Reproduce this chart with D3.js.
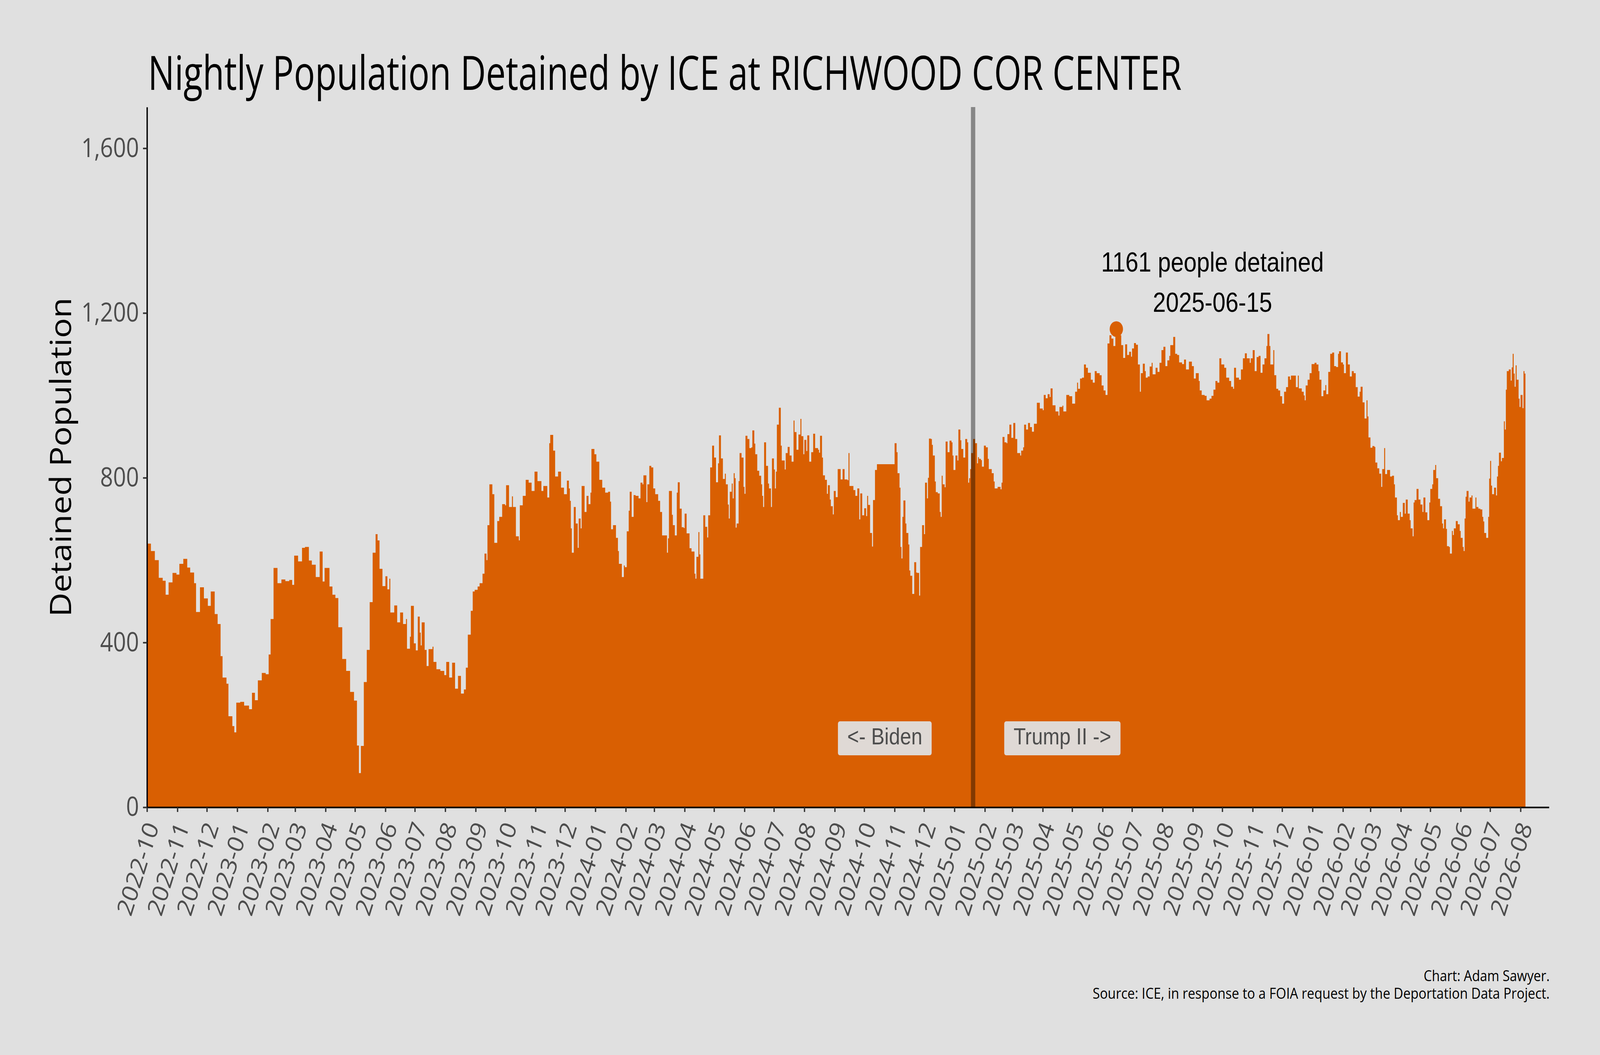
<!DOCTYPE html>
<html lang="en">
<head>
    <meta charset="utf-8">
    <title>index.html</title>
    <script type="text/javascript" src="https://cdnjs.cloudflare.com/ajax/libs/d3/7.8.5/d3.min.js"></script>
    <style>
        html, body { margin: 0; padding: 0; background: #E0E0E0; overflow: hidden; }
        svg { display: block; width: 100vw; height: 100vh; }
    </style>
</head>
<body>
    <script type="text/javascript">
    //days since 2022-10-01 at which the nightly count changes
    var dayNumber = [
        0,4,8,12,16,19,22,26,30,33, 37,41,44,48,50,54,58,62,65,69, 72,75,77,81,83,87,89,91,95,99,
        104,107,110,113,117,121,124,126,129,133, 137,141,145,148,150,154,158,161,165,168,
        172,176,179,181,186,189,192,195,199,203, 207,211,214,216,218,221,224,227,230,233,
        235,237,240,243,245,247,248,252,255,258, 261,264,265,268,269,272,274,276,278,279,
        280,283,285,287,291,292,295,299,303,305, 308,311,314,317,320,323,325,327,330,332,
        334,337,339,342,344,346,347,349,352,354, 357,359,362,365,366,369,372,373,376,379,
        380,383,386,389,392,395,398,402,404,408, 410,411,414,416,419,422,425,428,430,431,
        432,433,435,437,439,440,442,443,446,448, 450,452,453,456,458,461,464,467,
        470,472,473,475,478,480,481,484,486,487, 489,491,492,494,496,498,501,503,505,506,
        509,510,512,514,516,518,521,523,525,528, 530,531,532,535,536,538,540,541,543,545,
        547,548,550,553,555,558,559,560,562,563, 564,567,569,571,572,574,576,578,580,582,
        583,585,587,589,590,592,593,594,596,597, 598,599,600,601,603,604,606,608,609,610,
        612,614,616,617,619,620,622,624,626,627, 628,629,631,633,634,636,637,639,640,641,
        642,644,646,647,650,651,653,655,657,659, 660,662,664,666,667,669,670,672,673,675,
        677,679,681,684,685,686,688,689,691,693, 694,696,697,699,700,702,
        704,707,709,711,714,715,716,720,722,724, 726,727,729,731,733,734,735,737,739,740,
        742,744,749,753,758,761,762,764,765,767, 768,769,770,771,773,774,776,777,778,780,
        782,784,785,787,788,790,792,793,795,796, 797,799,800,801,803,804,806,808,809,810,
        811,813,814,816,818,820,821,822,824,826, 827,829,830,832,834,836,837,838,839,840,
        842,844,846,847,848,850,851,853,855,857, 858,861,863,864,867,870,871,872,874,876,
        877,879,881,883,885,887,890,891,893,894, 896,898,900,902,904,906,907,910,913,914,
        916,918,920,921,923,926,929,930,933,934, 937,
        938,940,943,946,948,949,951,953,955,957, 959,962,964,966,968,971,973,975,977,979,
        981,983,985,987,988,989,990,993,995,997, 999,1001,1003,1004,1006,1008,1010,1012,1013,1015,
        1017,1018,1020,1022,1024,1025,1028,1030,1032,1034, 1036,1038,1040,1042,1043,1046,1048,1050,1052,1055,
        1057,1059,1062,1063,1065,1067,1069,1072,1073,1075, 1078,1080,1083,1085,1087,1089,1091,1093,1095,1098,
        1100,1103,1105,1107,1108,1110,1113,1115,1117,1119, 1121,1124,1125,1127,1129,1131,1133,1135,1137,1139,
        1141,1142,1144,1145,1148,1149,1151,1153,1155,1157, 1159,1161,1163,1165,1166,1168,1171,
        1173,1174,1177,1179,1180,1181,1183,1185,1187,1190, 1192,1194,1195,1197,1199,1201,1202,1204,1206,1208,
        1210,1212,1214,1215,1217,1219,1220,1222,1224,1226, 1228,1230,1232,1234,1236,1237,1239,1241,1243,1244,
        1245,1247,1249,1251,1252,1254,1256,1258,1259,1261, 1262,1264,1266,1267,1269,1271,1272,1274,1275,1277,
        1278,1280,1282,1283,1285,1287,1288,1290,1291,1292, 1294,1296,1298,1300,1301,1303,1305,1307,1308,1310,
        1311,1313,1314,1316,1318,1320,1321,1322,1324,1325, 1327,1328,1330,1331,1332,1334,1336,1338,1339,1341,
        1342,1343,1344,1345,1347,1348,1350,1351,1354,1355, 1357,1359,1361,1362,1363,1365,1367,1368,1369,1370,
        1371,1373,1375,1376,1377,1378,1380,1381,1383,1384, 1385,1386,1388,1390,1391,1392,1393,1394,1395,1396,
        1398,1399,1400,1402,1403,1404
    ];

    //nightly detained population on those days
    var detained = [
        640,622,600,557,550,516,546,569,565,591, 603,582,570,544,474,534,507,489,524,469, 445,367,315,300,221,197,182,254,256,247,
        238,278,260,308,326,323,371,457,581,544, 553,549,552,540,611,597,630,632,599,589,
        559,621,548,581,536,516,508,437,360,331, 280,259,150,83,149,304,382,498,618,663,
        648,579,537,561,529,555,473,490,449,473, 445,457,385,414,489,398,381,463,424,393,
        449,382,343,384,390,353,335,331,321,353, 315,351,288,319,276,286,339,419,477,524,
        528,536,544,567,616,600,685,784,760,642, 695,705,736,733,782,729,755,729,658,648,
        733,756,795,788,768,815,792,768,780,752, 884,904,866,803,815,776,760,793,774,744,
        677,618,729,689,630,701,677,780,717,756, 736,764,870,857,839,795,776,764,
        766,742,675,685,654,622,591,559,587,583, 670,720,766,705,758,756,750,788,784,806,
        741,784,829,825,774,760,744,717,660,660, 618,653,768,710,685,660,764,789,725,680,
        678,713,665,629,621,567,555,608,668,614, 555,709,681,655,709,825,878,849,789,835,
        903,847,797,810,784,735,701,766,786,750, 811,799,679,689,792,860,849,778,761,902,
        894,872,874,915,883,857,817,805,784,756, 729,886,829,786,774,729,847,820,774,815,
        929,970,878,842,820,860,875,854,839,939, 911,868,905,943,901,857,892,865,903,839,
        862,907,872,868,861,902,849,806,795,761, 782,747,731,711,768,753,
        821,796,821,796,794,860,780,770,756,774, 699,762,709,726,707,756,734,666,633,746,
        819,833,833,833,833,833,884,862,811,776, 632,604,705,745,689,666,638,575,562,518,
        595,570,569,514,632,685,663,788,750,800, 895,894,880,854,791,765,762,717,705,805,
        784,777,888,862,890,886,854,819,854,842, 917,891,870,849,894,886,788,799,821,860,
        894,884,835,850,846,843,827,878,874,846, 821,811,791,774,778,772,788,899,886,884,
        906,929,897,933,894,860,854,866,874,929, 917,933,923,912,931,931,982,968,964,1001,
        993,1003,996,1017,976,961,951,972,975,961, 1001,
        1001,998,980,1009,1031,1016,1041,1043,1075,1067, 1055,1038,1031,1059,1054,1049,1024,1012,1001,1126,
        1146,1138,1120,1142,1161,1146,1146,1122,1091,1124, 1098,1106,1094,1114,1127,1123,1075,1009,1054,1077,
        1059,1043,1046,1070,1079,1051,1067,1057,1079,1110, 1118,1071,1085,1096,1122,1142,1101,1098,1080,1076,
        1087,1063,1082,1082,1071,1041,1054,1035,1012,1001, 999,988,992,999,1014,1035,1031,1090,1075,1067,
        1043,1035,1021,1016,1067,1043,1038,1063,1090,1102, 1090,1079,1090,1110,1059,1093,1096,1055,1075,1090,
        1120,1149,1120,1075,1110,1049,1016,1012,998,980, 1009,1020,1046,1038,1048,1048,1020,
        1048,1017,1009,1000,988,1024,1038,1054,1076,1079, 1075,1059,1038,998,1012,1025,1003,1057,1101,1104,
        1071,1069,1101,1107,1080,1075,1054,1104,1075,1046, 1059,1054,1020,997,1009,1021,983,944,988,949,
        898,873,877,875,837,823,810,778,821,872, 809,819,819,803,805,784,752,709,697,717,
        705,739,713,747,713,697,677,658,740,746, 773,747,735,717,752,716,697,740,773,784,
        819,831,799,749,731,689,677,699,676,634, 632,616,671,661,677,695,687,671,654,632,
        622,701,754,768,742,752,757,725,752,729, 725,723,705,694,666,654,705,798,841,781,
        760,776,757,803,829,861,840,848,937,917, 1014,1059,1063,1036,1068,1101,1053,1021,1073,1038,
        992,972,1001,969,1059,1053
    ];

    var startDate = new Date(Date.UTC(2022, 9, 1)),
        lastDay = 1405,
        axisEnd = new Date(Date.UTC(2026, 7, 30)),
        inauguration = new Date(Date.UTC(2025, 0, 20)),
        peakDate = new Date(Date.UTC(2025, 5, 15)),
        peakValue = 1161,
        yTicks = [0, 400, 800, 1200, 1600],
        eraLabels = ["<- Biden", "Trump II ->"],
        eraOffsetDays = [-90, 91],
        titleText = "Nightly Population Detained by ICE at RICHWOOD COR CENTER",
        yTitle = "Detained Population",
        captionLines = ["Chart: Adam Sawyer.", "Source: ICE, in response to a FOIA request by the Deportation Data Project."];

    //initialize the dimensions (drawn in a 4800 x 2700 viewBox that fills the window)
    var width = 4800,
        height = 2700,
        plot = {left: 441, right: 4647, top: 274, bottom: 2066},
        orange = "#D95F02",
        sans = "'Open Sans', 'Noto Sans', sans-serif",
        arial = "'Liberation Sans', Arial, sans-serif";

    //turn day numbers into dates, hold the last value to the end of the record
    var series = dayNumber.map(function(d, i) {
        return {date: d3.utcDay.offset(startDate, d), value: detained[i]};
    });
    series.push({date: d3.utcDay.offset(startDate, lastDay), value: detained[detained.length - 1]});

    var xScale = d3.scaleUtc()
                   .domain([startDate, axisEnd])
                   .range([plot.left, plot.right]);

    var yScale = d3.scaleLinear()
                   .domain([0, 1700])
                   .range([plot.bottom, plot.top]);

    var svg = d3.select("body")
                .append("svg")
                .attr("viewBox", "0 0 " + width + " " + height)
                .attr("preserveAspectRatio", "none")
                .style("background", "#E0E0E0");

    //the nightly counts as one stepped area
    var area = d3.area()
                 .curve(d3.curveStepAfter)
                 .x(function(d) { return xScale(d.date); })
                 .y0(yScale(0))
                 .y1(function(d) { return yScale(d.value); });

    svg.append("path")
       .datum(series)
       .attr("fill", orange)
       .attr("d", area);

    //inauguration line
    svg.append("line")
       .attr("x1", xScale(inauguration))
       .attr("x2", xScale(inauguration))
       .attr("y1", yScale(1700))
       .attr("y2", yScale(0))
       .attr("stroke", "black")
       .attr("stroke-opacity", 0.4)
       .attr("stroke-width", 13);

    //x axis, one tick per month
    var monthTicks = d3.utcMonth.range(startDate, d3.utcDay.offset(startDate, lastDay));
    var xAxis = d3.axisBottom(xScale)
                  .tickValues(monthTicks)
                  .tickFormat(d3.utcFormat("%Y-%m"))
                  .tickSize(12)
                  .tickSizeOuter(0);

    var gx = svg.append("g")
       .attr("transform", "translate(0," + plot.bottom + ")")
       .call(xAxis);
    gx.select(".domain").attr("stroke", "black").attr("stroke-width", 4);
    gx.selectAll(".tick line").attr("stroke", "#333333").attr("stroke-width", 4);
    gx.selectAll(".tick text")
      .attr("x", 0).attr("y", 0).attr("dy", null)
      .attr("text-anchor", "end")
      .attr("transform", "translate(36,49) rotate(-70)")
      .attr("fill", "#4D4D4D")
      .style("font-family", sans)
      .style("font-size", "66px");

    //y axis
    var yAxis = d3.axisLeft(yScale)
                  .tickValues(yTicks)
                  .tickFormat(d3.format(","))
                  .tickSize(12)
                  .tickPadding(12)
                  .tickSizeOuter(0);

    var gy = svg.append("g")
       .attr("transform", "translate(" + plot.left + ",0)")
       .call(yAxis);
    gy.select(".domain").attr("stroke", "black").attr("stroke-width", 4);
    gy.selectAll(".tick line").attr("stroke", "#333333").attr("stroke-width", 4);
    gy.selectAll(".tick text")
      .attr("fill", "#4D4D4D")
      .style("font-family", sans)
      .style("font-size", "68px");

    //peak marker
    svg.append("circle")
       .attr("cx", xScale(peakDate))
       .attr("cy", yScale(peakValue))
       .attr("r", 20)
       .attr("fill", orange);

    var note = svg.append("g")
       .attr("font-family", arial)
       .attr("font-size", 70)
       .attr("text-anchor", "middle")
       .attr("fill", "black");
    note.append("text")
        .attr("x", xScale(d3.utcDay.offset(peakDate, 98)))
        .attr("y", yScale(1301))
        .text(peakValue + " people detained");
    note.append("text")
        .attr("x", xScale(d3.utcDay.offset(peakDate, 98)))
        .attr("y", yScale(1203))
        .text(d3.utcFormat("%Y-%m-%d")(peakDate));

    //era labels either side of the inauguration
    eraLabels.forEach(function(label, i) {
        var cx = xScale(d3.utcDay.offset(inauguration, eraOffsetDays[i])),
            base = yScale(167) + 15;
        var g = svg.append("g");
        var rect = g.append("rect");
        var t = g.append("text")
                 .attr("x", cx)
                 .attr("y", base)
                 .attr("text-anchor", "middle")
                 .attr("font-family", arial)
                 .attr("font-size", 60)
                 .attr("fill", "#4D4D4D")
                 .text(label);
        var w = t.node().getComputedTextLength();
        rect.attr("x", cx - w / 2 - 28)
            .attr("y", base - 59)
            .attr("width", w + 56)
            .attr("height", 87)
            .attr("rx", 6)
            .attr("fill", "#DFD9D5");
    });

    //title
    svg.append("text")
       .attr("x", 444)
       .attr("y", 230)
       .attr("font-family", sans)
       .attr("font-size", 120)
       .attr("textLength", 3101)
       .attr("lengthAdjust", "spacingAndGlyphs")
       .text(titleText);

    //y axis title
    svg.append("text")
       .attr("transform", "translate(213,1170) rotate(-90)")
       .attr("text-anchor", "middle")
       .attr("font-family", sans)
       .attr("font-size", 88)
       .attr("textLength", 817)
       .attr("lengthAdjust", "spacingAndGlyphs")
       .text(yTitle);

    //caption
    var captionWidths = [378, 1371];
    captionLines.forEach(function(line, i) {
        svg.append("text")
           .attr("x", 4649)
           .attr("y", 2511 + i * 45)
           .attr("text-anchor", "end")
           .attr("font-family", sans)
           .attr("font-size", 39)
           .attr("textLength", captionWidths[i])
           .attr("lengthAdjust", "spacingAndGlyphs")
           .text(line);
    });
    </script>
</body>
</html>
